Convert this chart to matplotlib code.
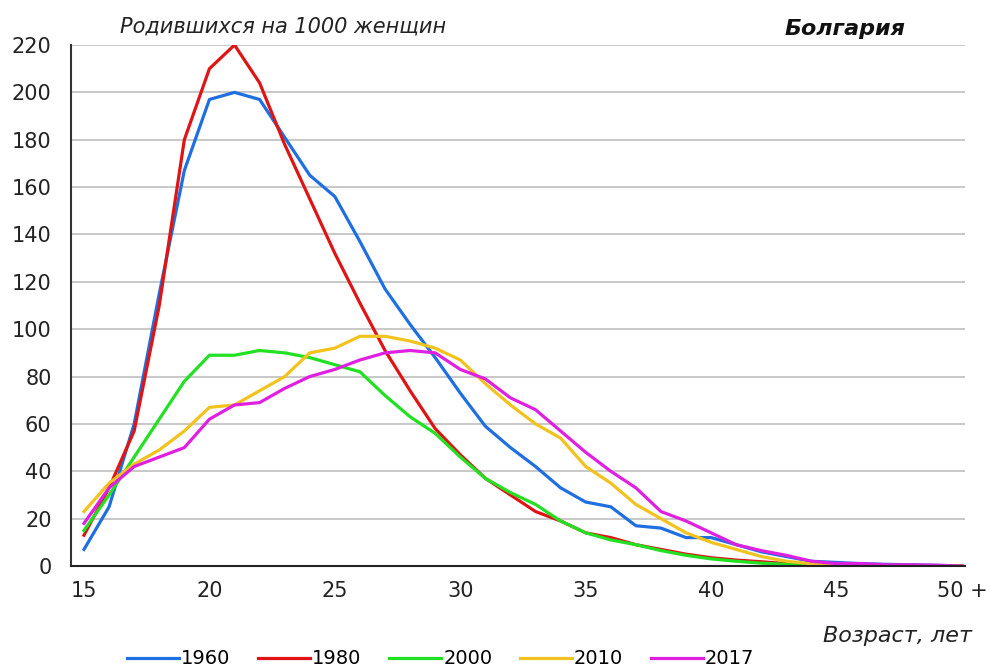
import matplotlib
matplotlib.use("Agg")
import matplotlib.pyplot as plt
from matplotlib.lines import Line2D

plt.rcParams['font.family'] = ['DejaVu Sans']

ages = list(range(15, 51))
y1960 = [7, 25, 60, 115, 167, 197, 200, 197, 181, 165, 156, 137, 117, 102, 88, 73, 59, 50, 42, 33,
         27, 25, 17, 16, 12, 12, 9, 6, 4, 2, 1.5, 1, 0.7, 0.5, 0.3, 0]
y1980 = [13, 33, 57, 110, 180, 210, 220, 204, 178, 155, 132, 111, 91, 74, 58, 47, 37, 30, 23, 19,
         14, 12, 9, 7, 5, 3.5, 2.5, 1.8, 1, 0.5, 0.3, 0.2, 0.1, 0.1, 0, 0]
y2000 = [15, 30, 46, 62, 78, 89, 89, 91, 90, 88, 85, 82, 72, 63, 56, 46, 37, 31, 26, 19,
         14, 11, 9, 6.5, 4.5, 3, 2, 1.2, 0.7, 0.3, 0.1, 0.1, 0, 0, 0, 0]
y2010 = [23, 35, 43, 49, 57, 67, 68, 74, 80, 90, 92, 97, 97, 95, 92, 87, 77, 68, 60, 54,
         42, 35, 26, 20, 14, 10, 7, 4, 2, 1, 0.5, 0.3, 0.2, 0.1, 0, 0]
y2017 = [18, 33, 42, 46, 50, 62, 68, 69, 75, 80, 83, 87, 90, 91, 90, 83, 79, 71, 66, 57,
         48, 40, 33, 23, 19, 14, 9, 6.5, 4.5, 2, 1, 1, 0.5, 0.5, 0.3, 0]

series = [("1960", y1960, "#1f6fe0"), ("1980", y1980, "#e01414"), ("2000", y2000, "#22e022"),
          ("2010", y2010, "#f2c21e"), ("2017", y2017, "#e020e0")]

xticks = [15, 20, 25, 30, 35, 40, 45, 50]
xticklabels = ["15", "20", "25", "30", "35", "40", "45", "50 +"]
yticks = list(range(0, 221, 20))

W, H = 989, 670
fig = plt.figure(figsize=(W / 100, H / 100), dpi=100)
ax = fig.add_axes([71 / W, (H - 566) / H, (965 - 71) / W, (566 - 45) / H])

for name, vals, col in series:
    ax.plot(ages, vals, color=col, lw=2.3, solid_joinstyle='round')

ax.set_xlim(15 - 13 / 25.09, 50 + 3 / 25.09)
ax.set_ylim(0, 220)
ax.set_yticks(yticks)
ax.set_xticks(xticks)
ax.set_xticklabels(xticklabels)
ax.tick_params(axis='both', length=0, labelsize=15, colors='#222222')
ax.tick_params(axis='x', pad=11)
ax.tick_params(axis='y', pad=14)
ax.grid(axis='y', color='#c4c4c4', lw=1.3)
ax.set_axisbelow(True)
for s in ['top', 'right']:
    ax.spines[s].set_visible(False)
ax.spines['left'].set_color('#333333')
ax.spines['bottom'].set_color('#222222')
ax.spines['left'].set_linewidth(1.5)
ax.spines['bottom'].set_linewidth(1.5)

fig.text(120 / W, 1 - 27 / H, "Родившихся на 1000 женщин", fontsize=15, style='italic',
         ha='left', va='center', color='#222222')
fig.text(905 / W, 1 - 29 / H, "Болгария", fontsize=16, style='italic', fontweight='bold',
         ha='right', va='center', color='#111111')
fig.text(972 / W, 1 - 636 / H, "Возраст, лет", fontsize=16, style='italic',
         ha='right', va='center', color='#222222')

handles = [Line2D([], [], color=c, lw=2.3) for _, _, c in series]
fig.legend(handles, [n for n, _, _ in series], loc='center left', ncol=5,
           bbox_to_anchor=(119 / W, 1 - 659 / H), frameon=False, fontsize=14,
           handlelength=2.7, handletextpad=0.1, columnspacing=1.4, borderaxespad=0)

fig.savefig("out.png", dpi=100, facecolor='white')
